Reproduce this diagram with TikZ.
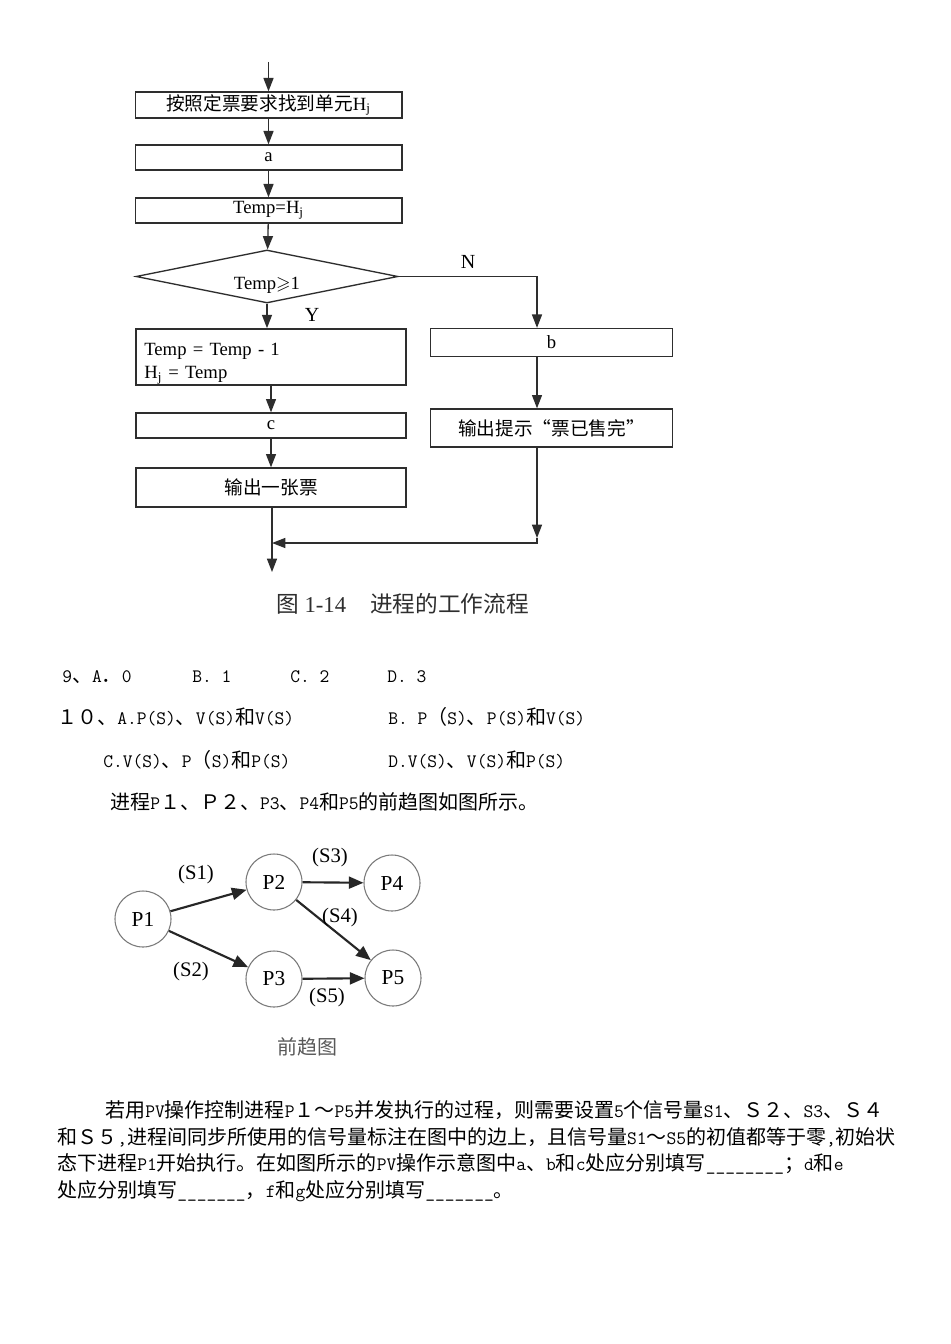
\documentclass[tikz,border=0pt]{standalone}
\usepackage{amssymb}
\usepackage{fontspec}
\setmainfont{Liberation Serif}
\newfontfamily\cjk{Noto Sans CJK SC}
\newfontfamily\monofont[Scale=0.95]{Latin Modern Mono}
\usetikzlibrary{shapes.geometric,arrows.meta}
\definecolor{ink}{HTML}{2E2E2E}
\definecolor{ringgray}{HTML}{7A7A7A}

\XeTeXinterchartokenstate=1
\newXeTeXintercharclass\cjkcls
\newcount\cjkn
\newcommand\cjkrange[2]{%
  \cjkn=#1\relax
  \loop
    \XeTeXcharclass\cjkn=\cjkcls\relax
  \ifnum\cjkn<#2\relax
    \advance\cjkn by 1
  \repeat}
\cjkrange{"2018}{"201D}
\cjkrange{"3000}{"303F}
\cjkrange{"4E00}{"9FFF}
\cjkrange{"FF00}{"FFEF}
\def\curlatin{\rmfamily}
\XeTeXinterchartoks 0 \cjkcls = {\cjk}
\XeTeXinterchartoks 4095 \cjkcls = {\cjk}
\XeTeXinterchartoks \cjkcls 0 = {\curlatin}
\XeTeXinterchartoks \cjkcls 4095 = {\curlatin}
\newcommand\bodyfont{\let\curlatin\monofont\fontsize{15}{18}\selectfont\monofont}

\begin{document}
\begin{tikzpicture}[x=0.75pt,y=-0.75pt,
  box/.style={draw=ink, line width=1pt, rectangle, minimum width=200pt, minimum height=19.5pt, inner sep=1pt, font=\fontsize{14}{16}\selectfont},
  test/.style={draw=ink, line width=1pt, diamond, minimum width=196.5pt, minimum height=39.75pt, inner sep=0pt, font=\fontsize{14}{16}\selectfont},
  arr/.style={draw=ink, line width=1pt, -{Triangle[length=10pt,width=7.5pt]}},
  yn/.style={font=\fontsize{15}{18}\selectfont},
  body/.style={anchor=base west, inner sep=0pt, font=\bodyfont},
  proc/.style={draw=ringgray, line width=0.8pt, circle, minimum size=42pt, inner sep=0pt, font=\fontsize{16}{18}\selectfont},
  dep/.style={draw=black!85, line width=1.6pt, -{Triangle[length=11pt,width=9pt]}},
  sem/.style={font=\fontsize{15.5}{18}\selectfont}]
\useasboundingbox[fill=white] (0,0) rectangle (950,1344);

\coordinate (entry) at (268.5,62);
\node[box] (find) at (268.5,105) {按照定票要求找到单元H$_\mathrm{j}$};
\node[box, minimum height=18.75pt] (opa) at (268.5,157.5) {a};
\node[box, minimum height=18.75pt] (temp) at (268.5,210.5) {Temp=H$_\mathrm{j}$};
\node[test] (test) at (267,276.5) {\makebox[0pt]{\raisebox{-9.5pt}[0pt][0pt]{Temp$\geqslant$1}}};
\node[box, minimum width=202.5pt, minimum height=41.25pt, text width=190pt, align=left, inner xsep=6pt, font=\fontsize{14}{17}\selectfont] (dec) at (271,357) {\rule{0pt}{19pt}Temp = Temp - 1\\H$_\mathrm{j}$ = Temp};
\node[box, minimum width=202.5pt, minimum height=18.75pt] (opc) at (271,425.5) {c};
\node[box, minimum width=202.5pt, minimum height=29.25pt] (out) at (271,487.5) {输出一张票};
\node[box, minimum width=181.5pt, minimum height=21pt] (opb) at (551.5,342.5) {b};
\node[box, minimum width=181.5pt, minimum height=28.5pt] (msg) at (551.5,428) {输出提示“票已售完”};
\node[yn] (yes) at (312,315) {Y};
\node[yn] (no) at (468,262) {N};

\coordinate (rx) at (537,0);
\coordinate (rtip) at (537,538);
\coordinate (rcorner) at (537,543);
\coordinate (join) at (272,543);
\coordinate (exit) at (272,572);

\draw[arr] (entry) -- (find);
\draw[arr] (find) -- (opa);
\draw[arr] (opa) -- (temp);
\draw[arr] (temp) -- (test);
\draw[arr] (test.south) -- (test.south |- dec.north);
\draw[arr] (test.east) -- (test.east -| rx) -- (opb.north -| rx);
\draw[arr] (opb.south -| rx) -- (msg.north -| rx);
\draw[arr] (dec) -- (opc);
\draw[arr] (opc) -- (out);
\draw[arr] (msg.south -| rx) -- (rtip);
\draw[arr] (rtip) -- (rcorner) -- (join);
\draw[arr] (out.south -| exit) -- (exit);

\node[anchor=base west, inner sep=0pt, text=ink, font=\fontsize{17}{20}\selectfont] (figcap) at (276,612) {图 1-14\hspace{18pt}进程的工作流程};

\node[body] (q9) at (62,682) {9、A．0};
\node[body] (q9b) at (192,682) {B. 1};
\node[body] (q9c) at (290,682) {C. 2};
\node[body] (q9d) at (387,682) {D. 3};
\node[body] (q10) at (57,724) {１０、A.P(S)、V(S)和V(S)};
\node[body] (q10b) at (388,724) {B. P（S)、P(S)和V(S)};
\node[body] (q10c) at (103,767) {C.V(S)、P（S)和P(S)};
\node[body] (q10d) at (388,767) {D.V(S)、V(S)和P(S)};
\node[body] (intro) at (110,809) {进程P１、Ｐ２、P3、P4和P5的前趋图如图所示。};

\node[proc] (p1) at (143,919) {P1};
\node[proc] (p2) at (274,882) {P2};
\node[proc] (p4) at (392,883) {P4};
\node[proc] (p3) at (274,979) {P3};
\node[proc] (p5) at (393,978) {P5};
\draw[dep] (p1) -- (p2) node[sem] at (196,875) {(S1)};
\draw[dep] (p1) -- (p3) node[sem] at (191,972) {(S2)};
\draw[dep] (p2) -- (p4) node[sem] at (330,858) {(S3)};
\draw[dep] (p2) -- (p5) node[sem] at (340,918) {(S4)};
\draw[dep] (p3) -- (p5) node[sem] at (327,998) {(S5)};
\node[text=black!65, font=\fontsize{15}{18}\selectfont] (graphcap) at (307,1047) {前趋图};

\node[body] (t1) at (105,1117) {若用PV操作控制进程P１～P5并发执行的过程，则需要设置5个信号量S1、Ｓ２、S3、Ｓ４};
\node[body] (t2) at (57,1144) {和Ｓ５,进程间同步所使用的信号量标注在图中的边上，且信号量S1～S5的初值都等于零,初始状};
\node[body] (t3) at (57,1170) {态下进程P1开始执行。在如图所示的PV操作示意图中a、b和c处应分别填写\_\_\_\_\_\_\_\_；d和e};
\node[body] (t4) at (57,1197) {处应分别填写\_\_\_\_\_\_\_，f和g处应分别填写\_\_\_\_\_\_\_。};
\end{tikzpicture}
\end{document}
